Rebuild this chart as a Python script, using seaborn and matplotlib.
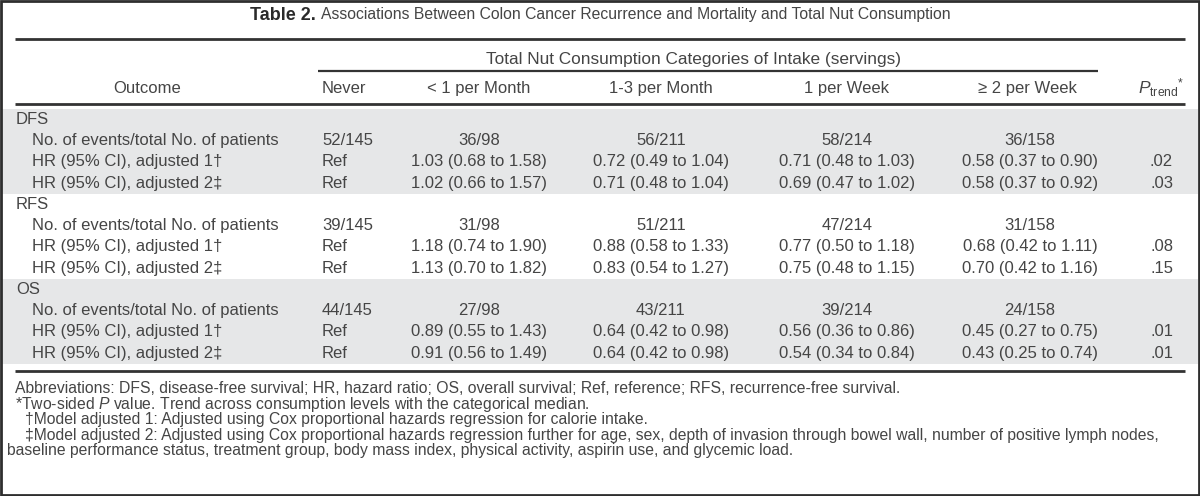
import matplotlib
matplotlib.use("Agg")
import matplotlib.pyplot as plt
import seaborn as sns
from matplotlib.patches import Rectangle

# table content
outcomes = ["DFS", "RFS", "OS"]
row_labels = ["No. of events/total No. of patients",
              "HR (95% CI), adjusted 1\u2020",
              "HR (95% CI), adjusted 2\u2021"]
categories = ["Never", "< 1 per Month", "1-3 per Month", "1 per Week", "\u2265 2 per Week"]

dfs_events = ["52/145", "36/98", "56/211", "58/214", "36/158"]
dfs_hr1 = ["Ref", "1.03 (0.68 to 1.58)", "0.72 (0.49 to 1.04)", "0.71 (0.48 to 1.03)", "0.58 (0.37 to 0.90)"]
dfs_hr2 = ["Ref", "1.02 (0.66 to 1.57)", "0.71 (0.48 to 1.04)", "0.69 (0.47 to 1.02)", "0.58 (0.37 to 0.92)"]
dfs_ptrend = ["", ".02", ".03"]

rfs_events = ["39/145", "31/98", "51/211", "47/214", "31/158"]
rfs_hr1 = ["Ref", "1.18 (0.74 to 1.90)", "0.88 (0.58 to 1.33)", "0.77 (0.50 to 1.18)", "0.68 (0.42 to 1.11)"]
rfs_hr2 = ["Ref", "1.13 (0.70 to 1.82)", "0.83 (0.54 to 1.27)", "0.75 (0.48 to 1.15)", "0.70 (0.42 to 1.16)"]
rfs_ptrend = ["", ".08", ".15"]

os_events = ["44/145", "27/98", "43/211", "39/214", "24/158"]
os_hr1 = ["Ref", "0.89 (0.55 to 1.43)", "0.64 (0.42 to 0.98)", "0.56 (0.36 to 0.86)", "0.45 (0.27 to 0.75)"]
os_hr2 = ["Ref", "0.91 (0.56 to 1.49)", "0.64 (0.42 to 0.98)", "0.54 (0.34 to 0.84)", "0.43 (0.25 to 0.74)"]
os_ptrend = ["", ".01", ".01"]

title_bold = "Table 2."
title_rest = "Associations Between Colon Cancer Recurrence and Mortality and Total Nut Consumption"
spanner = "Total Nut Consumption Categories of Intake (servings)"
footnotes = [
    "Abbreviations: DFS, disease-free survival; HR, hazard ratio; OS, overall survival; Ref, reference; RFS, recurrence-free survival.",
    "*Two-sided $P$ value. Trend across consumption levels with the categorical median.",
    "\u2020Model adjusted 1: Adjusted using Cox proportional hazards regression for calorie intake.",
    "\u2021Model adjusted 2: Adjusted using Cox proportional hazards regression further for age, sex, depth of invasion through bowel wall, number of positive lymph nodes,",
    "baseline performance status, treatment group, body mass index, physical activity, aspirin use, and glycemic load.",
]

blocks = [
    (dfs_events, dfs_hr1, dfs_hr2, dfs_ptrend),
    (rfs_events, rfs_hr1, rfs_hr2, rfs_ptrend),
    (os_events, os_hr1, os_hr2, os_ptrend),
]

sns.set_theme(style="white")
plt.rcParams["font.family"] = ["Liberation Sans", "DejaVu Sans"]
plt.rcParams["mathtext.fontset"] = "custom"
plt.rcParams["mathtext.rm"] = "Liberation Sans"
plt.rcParams["mathtext.it"] = "Liberation Sans:italic"

ink = "#454545"
rule = "#333333"
band = "#e6e7e8"
fs = 12
fs_note = 11.3

fig = plt.figure(figsize=(12, 4.96), dpi=100)
ax = fig.add_axes([0, 0, 1, 1])
ax.set_xlim(0, 1200)
ax.set_ylim(496, 0)
ax.axis("off")


def put(x, y, s, ha="left", size=fs, **kw):
    # y is the middle of the capitals
    return ax.text(x, y + size * 0.36, s, ha=ha, va="baseline", fontsize=size, color=ink, **kw)


# title, centred as a whole
t1 = ax.text(0, 15 + 13 * 0.36, title_bold, va="baseline", fontsize=13, fontweight="bold", color="#2a2a2a")
t2 = put(0, 15, title_rest, size=11.3)
fig.canvas.draw()
w1 = t1.get_window_extent().width
w2 = t2.get_window_extent().width
gap = 5
x0 = 600 - (w1 + gap + w2) / 2
t1.set_x(x0)
t2.set_x(x0 + w1 + gap)

# rules
ax.plot([15, 1185], [39, 39], color=rule, lw=2, solid_capstyle="butt")
ax.plot([318, 1098], [71, 71], color=rule, lw=1.6, solid_capstyle="butt")
ax.plot([15, 1185], [104, 104], color=rule, lw=2, solid_capstyle="butt")
ax.plot([15, 1185], [371, 371], color=rule, lw=2, solid_capstyle="butt")

# header
put(694, 60, spanner, ha="center", size=12.4)
put(147, 89, "Outcome", ha="center")
col_x = [322, 479, 661, 847, 1030]
hdr_x = [322, 479, 661, 847, 1027]
for i, c in enumerate(categories):
    put(hdr_x[i], 89, c, ha="left" if i == 0 else "center")
put(1138, 89, r"$\mathit{P}_{\mathrm{trend}}{}^{*}$", size=12.5)

# body
band_top = [109, 194, 279]
row_h = 21.25
for b, (name, vals) in enumerate(zip(outcomes, blocks)):
    top = band_top[b]
    if b != 1:
        ax.add_patch(Rectangle((2, top), 1196, 4 * row_h, color=band, lw=0, zorder=0))
    put(16, top + row_h * 0.5, name)
    events, hr1, hr2, ptr = vals
    for r, row in enumerate([events, hr1, hr2]):
        y = top + row_h * (r + 1.5)
        put(32, y, row_labels[r])
        for i, v in enumerate(row):
            put(col_x[i], y, v, ha="left" if i == 0 else "center")
        if ptr[r]:
            put(1173, y, ptr[r], ha="right")

# footnotes
note_x = [15, 15, 25, 25, 7]
note_y = [389 + 15.5 * k for k in range(5)]
for x, y, s in zip(note_x, note_y, footnotes):
    put(x, y, s, size=fs_note)

# outer frame
fig.patches.append(Rectangle((0.001, 0.002), 0.998, 0.996, transform=fig.transFigure,
                             fill=False, edgecolor="#2e2e2e", lw=2))

fig.savefig("out.png", dpi=100)
